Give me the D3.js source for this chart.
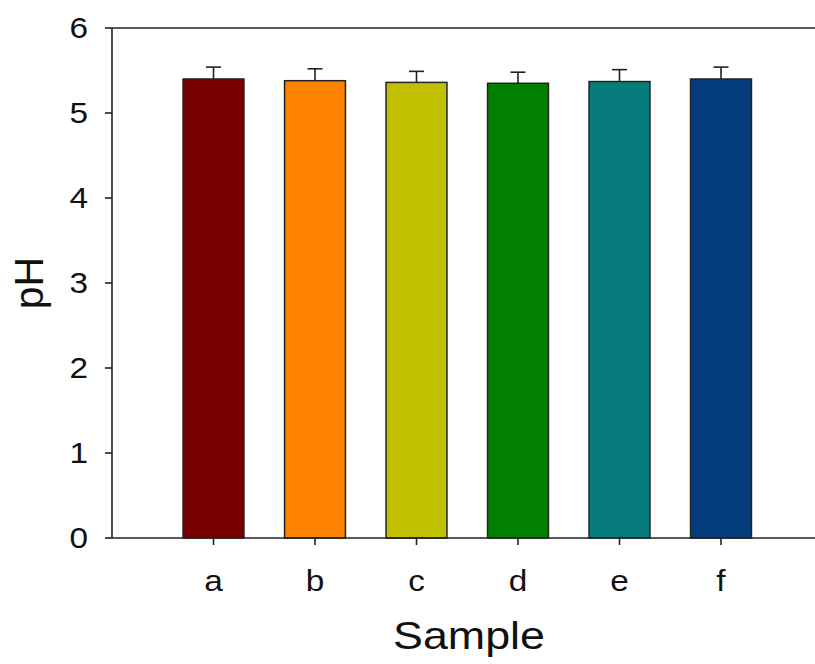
<!DOCTYPE html>
<html>
<head>
<meta charset="utf-8">
<script src="https://cdn.jsdelivr.net/npm/d3@7"></script>
<style>
  html, body { margin: 0; padding: 0; background: #fff; }
  svg { display: block; font-family: "Liberation Sans", Arial, sans-serif; }
</style>
</head>
<body>
<div class="bar-chart-container"></div>
<script>
// 資料
const samples = ['a', 'b', 'c', 'd', 'e', 'f'];
const phValues = [5.40, 5.38, 5.36, 5.35, 5.37, 5.40];
const phErrors = [0.14, 0.14, 0.13, 0.13, 0.14, 0.14];
const barColors = ['#780000', '#ff8200', '#c0c000', '#007f00', '#057b7b', '#043c7c'];
const yTicks = [0, 1, 2, 3, 4, 5, 6];

function setupCanvas() {
    const svg_width = 815;
    const svg_height = 664;
    const left = 112, top = 28, bottom = 538, right = 815;
    const xStretch = 1.15; // 原圖文字有點橫向拉寬

    const svg = d3.select('.bar-chart-container')
        .append('svg')
        .attr('width', svg_width).attr('height', svg_height);

    // scales
    const xScale = d3.scaleBand()
        .domain(samples)
        .range([left, 822.5])
        .paddingInner(0.4)
        .paddingOuter(0.7);
    const yScale = d3.scaleLinear()
        .domain([0, 6])
        .range([bottom, top]);

    const data = samples.map((s, i) => ({ name: s, value: phValues[i], err: phErrors[i], color: barColors[i] }));

    // error bars (畫在柱子後面, 只露出上半段)
    const errG = svg.append('g').attr('class', 'errors')
        .attr('stroke', '#222').attr('stroke-width', 1.6);
    errG.selectAll('.err-line')
        .data(data).enter()
        .append('line')
        .attr('x1', d => xScale(d.name) + xScale.bandwidth() / 2)
        .attr('x2', d => xScale(d.name) + xScale.bandwidth() / 2)
        .attr('y1', d => yScale(d.value))
        .attr('y2', d => yScale(d.value + d.err));
    errG.selectAll('.err-cap')
        .data(data).enter()
        .append('line')
        .attr('x1', d => xScale(d.name) + xScale.bandwidth() / 2 - 7.5)
        .attr('x2', d => xScale(d.name) + xScale.bandwidth() / 2 + 7.5)
        .attr('y1', d => yScale(d.value + d.err))
        .attr('y2', d => yScale(d.value + d.err));

    // bars
    svg.append('g').attr('class', 'bars')
        .selectAll('rect')
        .data(data).enter()
        .append('rect')
        .attr('x', d => xScale(d.name))
        .attr('y', d => yScale(d.value))
        .attr('width', xScale.bandwidth())
        .attr('height', d => yScale(0) - yScale(d.value))
        .style('fill', d => d.color)
        .style('stroke', '#222')
        .style('stroke-width', 1.5);

    // axes lines
    const axisG = svg.append('g').attr('class', 'axes')
        .attr('stroke', '#222').attr('stroke-width', 1.6).attr('fill', 'none');
    axisG.append('line').attr('x1', left).attr('x2', left).attr('y1', top).attr('y2', bottom);
    axisG.append('line').attr('x1', left).attr('x2', right).attr('y1', bottom).attr('y2', bottom);
    axisG.append('line').attr('x1', left).attr('x2', right).attr('y1', top).attr('y2', top);

    // y ticks
    axisG.selectAll('.ytick')
        .data(yTicks).enter()
        .append('line')
        .attr('x1', left - 7).attr('x2', left)
        .attr('y1', d => yScale(d)).attr('y2', d => yScale(d));
    svg.append('g').selectAll('text')
        .data(yTicks).enter()
        .append('text')
        .attr('transform', d => `translate(88,${yScale(d)}) scale(${xStretch},1)`)
        .attr('dy', '0.36em')
        .attr('text-anchor', 'end')
        .style('font-size', '29px')
        .style('fill', '#111')
        .text(d => d);

    // x ticks
    axisG.selectAll('.xtick')
        .data(samples).enter()
        .append('line')
        .attr('x1', d => xScale(d) + xScale.bandwidth() / 2)
        .attr('x2', d => xScale(d) + xScale.bandwidth() / 2)
        .attr('y1', bottom).attr('y2', bottom + 7);
    svg.append('g').selectAll('text')
        .data(samples).enter()
        .append('text')
        .attr('transform', d => `translate(${xScale(d) + xScale.bandwidth() / 2},591) scale(${xStretch},1)`)
        .attr('text-anchor', 'middle')
        .style('font-size', '29px')
        .style('fill', '#111')
        .text(d => d);

    // axis titles
    svg.append('text')
        .attr('transform', `translate(469,649) scale(${xStretch},1)`)
        .attr('text-anchor', 'middle')
        .style('font-size', '39px')
        .style('fill', '#111')
        .text('Sample');
    svg.append('text')
        .attr('transform', 'translate(43,283) rotate(-90)')
        .attr('text-anchor', 'middle')
        .style('font-size', '41px')
        .style('fill', '#111')
        .text('pH');
}

setupCanvas();
</script>
</body>
</html>
